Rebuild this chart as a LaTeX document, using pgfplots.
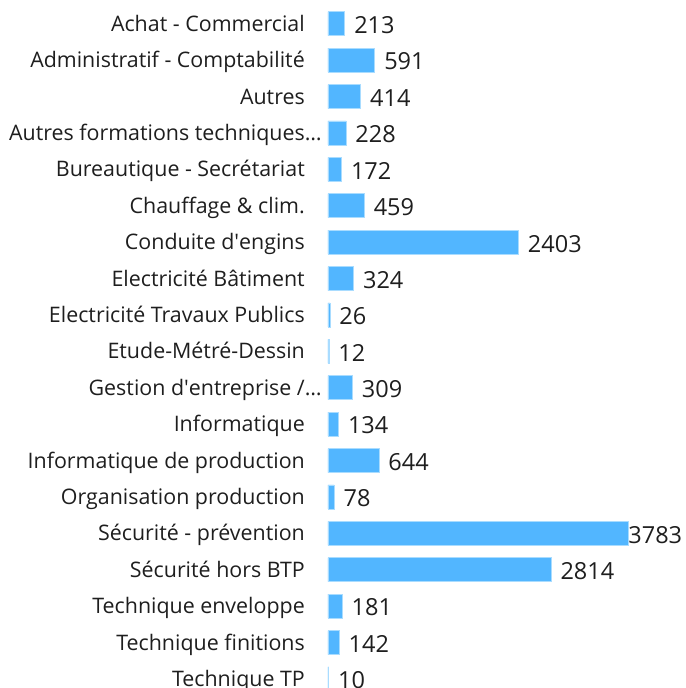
\documentclass[border=0pt]{standalone}
\usepackage{fontspec}
\setmainfont{Open Sans}
\usepackage{pgfplots}
\pgfplotsset{compat=1.18}
\definecolor{barfill}{HTML}{52B6FF}
\definecolor{barline}{HTML}{A9DCFF}
\definecolor{txt}{HTML}{1E1E1E}
\begin{document}
\begin{tikzpicture}
\begin{axis}[
  scale only axis,
  width=300bp, height=655.2bp,
  xmin=0, xmax=3783,
  ymin=0, ymax=18,
  y dir=reverse,
  axis line style={draw=none},
  major tick length=0pt,
  xtick=\empty,
  ytick={0,...,18},
  yticklabels={
    Achat - Commercial,
    Administratif - Comptabilité,
    Autres,
    {Autres formations techniques\rlap{…}},
    Bureautique - Secrétariat,
    Chauffage \& clim.,
    Conduite d\textquotesingle engins,
    Electricité Bâtiment,
    Electricité Travaux Publics,
    Etude-Métré-Dessin,
    {Gestion d\textquotesingle entreprise /\rlap{…}},
    Informatique,
    Informatique de production,
    Organisation production,
    Sécurité - prévention,
    Sécurité hors BTP,
    Technique enveloppe,
    Technique finitions,
    Technique TP},
  yticklabel style={font=\fontsize{21.4bp}{24bp}\selectfont, text=txt, anchor=east,
    inner sep=0pt, xshift=-23bp, text height=15bp, text depth=0bp},
  xbar, bar width=24bp, bar shift=0pt,
  /pgf/number format/.cd, 1000 sep={}, assume math mode=true, /pgfplots/.cd,
  nodes near coords,
  every node near coord/.style={anchor=west, inner sep=0pt, text=txt,
    font=\fontsize{23.5bp}{27bp}\selectfont,
    xshift={(\pgfplotspointmetatransformed<999)*9.03}, yshift=-1.5bp},
  clip=false,
]
\addplot[fill=barfill, draw=barline, line width=0.8bp] coordinates {
  (213,0) (591,1) (414,2) (228,3) (172,4) (459,5) (2403,6) (324,7)
  (26,8) (12,9) (309,10) (134,11) (644,12) (78,13) (3783,14) (2814,15)
  (181,16) (142,17) (10,18)};
\coordinate (O) at (axis cs:0,0);
\end{axis}
\pgfresetboundingbox
\path[use as bounding box] ([shift={(-328bp,23.7bp)}]O) rectangle ([shift={(358bp,-664.3bp)}]O);
\end{tikzpicture}
\end{document}
